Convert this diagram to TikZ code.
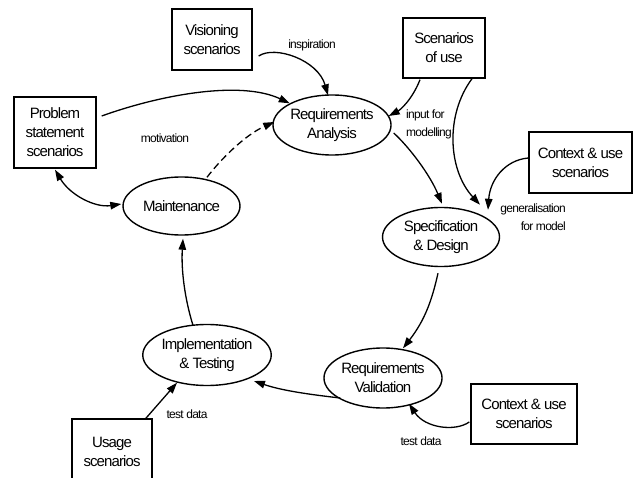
\documentclass[tikz,border=0pt]{standalone}
\usepackage{fontspec}
\setmainfont{Liberation Sans}[LetterSpace=-6]
\usetikzlibrary{arrows.meta,shapes.geometric}

\tikzset{
  boxtext/.style={font=\fontsize{15}{19}\selectfont, align=center},
  scenario/.style={boxtext, draw, line width=1.4pt, inner sep=0pt},
  activity/.style={boxtext, draw, ellipse, line width=1.4pt, inner sep=0pt},
  flow/.style={line width=1.3pt, -{Triangle[length=11pt,width=7.5pt]}},
  twoway/.style={line width=1.3pt, {Triangle[length=11pt,width=7.5pt]}-{Triangle[length=11pt,width=7.5pt]}},
  feedback/.style={flow, dash pattern=on 7pt off 4pt},
  note/.style={font=\fontsize{12}{18}\selectfont, inner sep=0pt}
}

\begin{document}
\begin{tikzpicture}[x=1pt,y=-1pt]
  \useasboundingbox (0,0) rectangle (634,478);
  \clip (0,0) rectangle (634,478);
  \fill[white] (0,0) rectangle (634,478);

  % scenario sources
  \node[scenario, minimum width=80pt, minimum height=61pt] (vis) at (212,39.5) {Visioning\\scenarios};
  \node[scenario, minimum width=82pt, minimum height=71pt] (prob) at (55,132.5) {Problem\\statement\\scenarios};
  \node[scenario, minimum width=82pt, minimum height=60pt] (sou) at (444,48) {Scenarios\\of use};
  \node[scenario, minimum width=103pt, minimum height=61pt] (ctxa) at (580.5,162.5) {Context \& use\\scenarios};
  \node[scenario, minimum width=106pt, minimum height=60pt] (ctxb) at (524,414) {Context \& use\\scenarios};
  \node[scenario, minimum width=80pt, minimum height=66pt] (usage) at (112,452) {Usage\\scenarios};

  % development activities
  \node[activity, minimum width=118pt, minimum height=60pt] (ra) at (332,125) {Requirements\\Analysis};
  \node[activity, minimum width=117pt, minimum height=58pt] (mnt) at (181.5,206) {Maintenance};
  \node[activity, minimum width=117pt, minimum height=59pt] (spec) at (441,237) {Specification\\\& Design};
  \node[activity, minimum width=118pt, minimum height=60pt] (rv) at (383,378) {Requirements\\Validation};
  \node[activity, minimum width=118pt, minimum height=61pt] (impl) at (207,355) {Implementation\\\& Testing};

  % connectors
  \draw[flow] ([shift={(6,16.5)}]vis.east) .. controls (275,45) and (318,60) .. ([shift={(-4,1)}]ra.north);
  \draw[flow] ([shift={(5,-16.5)}]prob.east) .. controls (160,95) and (240,80) .. (ra.north west);
  \draw[feedback] ([shift={(25.5,1)}]mnt.north) .. controls (220,160) and (245,135) .. ([shift={(2,-3)}]ra.west);
  \draw[twoway] ([shift={(0,1)}]prob.south) .. controls (70,195) and (95,208) .. ([shift={(-1,-2)}]mnt.west);
  \draw[flow] ([shift={(-24,1)}]sou.south) .. controls (412,100) and (400,110) .. ([shift={(-3,-9)}]ra.east);
  \draw[flow] ([shift={(28,0)}]sou.south) .. controls (445,115) and (448,170) .. ([shift={(39,-2)}]spec.north);
  \draw[flow] ([shift={(0,-4.5)}]ctxa.west) .. controls (505,160) and (490,180) .. ([shift={(47,3)}]spec.north);
  \draw[flow] ([shift={(2,8)}]ra.east) .. controls (410,148) and (430,175) .. ([shift={(1,-3)}]spec.north);
  \draw[flow] ([shift={(-3,6)}]spec.south) .. controls (432,300) and (425,320) .. ([shift={(20,1)}]rv.north);
  \draw[flow] ([shift={(-1,8)}]ctxb.west) .. controls (455,432) and (425,428) .. ([shift={(26,-5)}]rv.south);
  \draw[flow] ([shift={(17,20)}]rv.west) .. controls (305,394) and (280,390) .. ([shift={(-18,26)}]impl.east);
  \draw[flow] ([shift={(33,1)}]usage.north) -- ([shift={(-30,-3.5)}]impl.south);
  \draw[flow] ([shift={(-14,1.5)}]impl.north) .. controls (185,300) and (181,270) .. ([shift={(1.5,3)}]mnt.south);

  % connector labels
  \node[note] (linsp) at (312,45) {inspiration};
  \node[note] (lmot) at (165,138) {motivation};
  \node[note, align=left, anchor=west] (linp) at (406,124) {input for\\modelling};
  \node[note, align=right, anchor=east] (lgen) at (566,217) {generalisation\\for model};
  \node[note] (ltda) at (421,441) {test data};
  \node[note] (ltdb) at (187,414) {test data};
\end{tikzpicture}
\end{document}
